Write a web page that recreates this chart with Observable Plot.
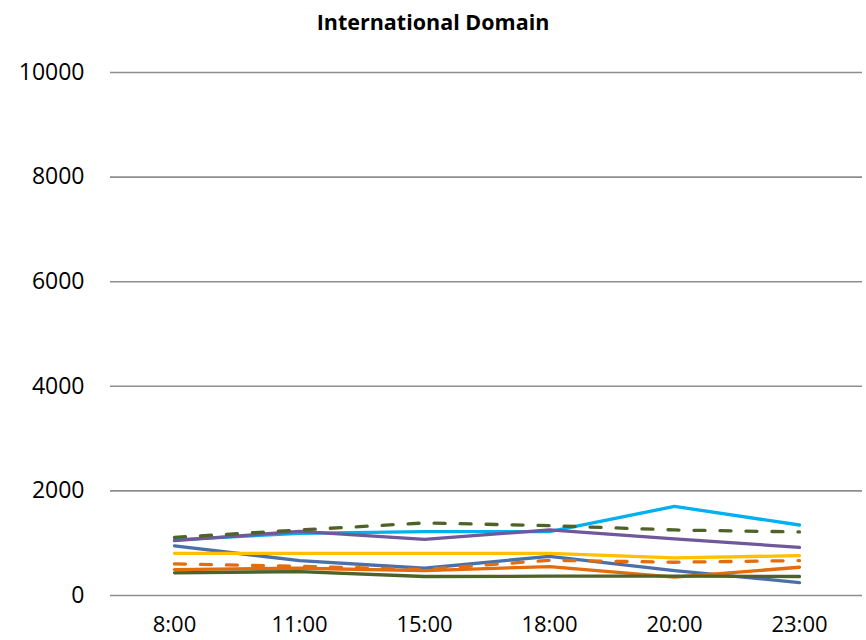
<!DOCTYPE html>
<html>
<head>
<meta charset="utf-8">
<script src="https://cdn.jsdelivr.net/npm/d3@7"></script>
<script src="https://cdn.jsdelivr.net/npm/@observablehq/plot@0.6"></script>
<style>
  html, body { margin: 0; padding: 0; background: #fff; }
  #wrap { width: 866px; height: 640px; font-family: "Open Sans", sans-serif; }
  #title { height: 40px; line-height: 44px; text-align: center; font-weight: bold; font-size: 21.5px; color: #000; overflow: visible; }
</style>
</head>
<body>
<div id="wrap">
  <div id="title">International Domain</div>
  <div id="chart"></div>
</div>
<script>
const times = ["8:00", "11:00", "15:00", "18:00", "20:00", "23:00"];
const yTicks = [0, 2000, 4000, 6000, 8000, 10000];

const seriesNames = ["Series A", "Series B", "Series C", "Series D", "Series E", "Series F", "Series G", "Series H"];
const seriesA = [948, 668, 521, 750, 477, 248];      // steel blue
const seriesB = [496, 521, 477, 553, 350, 540];      // orange solid
const seriesC = [433, 458, 363, 369, 369, 363];      // dark green solid
const seriesD = [807, 807, 807, 807, 719, 763];      // yellow
const seriesE = [605, 559, 496, 674, 636, 668];      // orange dashed
const seriesF = [1063, 1189, 1221, 1221, 1704, 1348];// light blue
const seriesG = [1049, 1227, 1074, 1253, 1081, 922]; // purple
const seriesH = [1112, 1253, 1387, 1336, 1253, 1215];// dark green dashed

const seriesValues = [seriesA, seriesB, seriesC, seriesD, seriesE, seriesF, seriesG, seriesH];
const seriesColors = ["#4A70AA", "#E46C0A", "#4F6228", "#FFC000", "#E46C0A", "#00B0F0", "#70589A", "#4F6228"];
const seriesDashed = [false, false, false, false, true, false, false, true];

const chart = Plot.plot({
  width: 866,
  height: 600,
  marginTop: 32,
  marginBottom: 45,
  marginLeft: 110,
  marginRight: 4,
  style: { fontFamily: "'Open Sans', sans-serif", fontSize: "23px", color: "#000", background: "#fff" },
  x: { type: "point", domain: times, padding: 0.5, label: null },
  y: { domain: [0, 10000], label: null },
  marks: [
    Plot.ruleY(yTicks, { stroke: "#8E8E8E", strokeWidth: 1.6 }),
    Plot.axisY({ ticks: yTicks, tickSize: 0, tickPadding: 26, tickFormat: d => String(d), label: null }),
    Plot.axisX({ tickSize: 0, tickPadding: 21, fontSize: 22, label: null }),
    ...seriesValues.map((vals, i) =>
      Plot.line(times.map((t, j) => ({ time: t, value: vals[j], series: seriesNames[i] })), {
        x: "time",
        y: "value",
        stroke: seriesColors[i],
        strokeWidth: 3.3,
        strokeDasharray: seriesDashed[i] ? "11,15" : null,
        strokeLinecap: "round",
        strokeLinejoin: "round"
      })
    )
  ]
});
document.getElementById("chart").appendChild(chart);
</script>
</body>
</html>
